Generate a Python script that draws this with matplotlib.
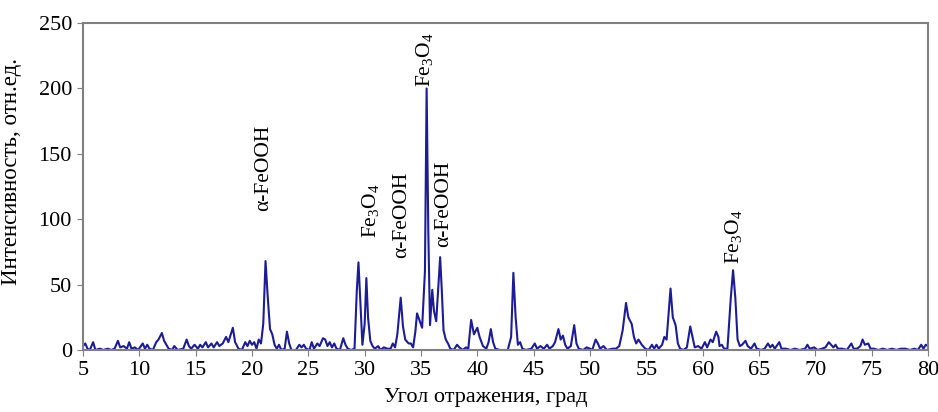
import matplotlib
matplotlib.use('Agg')
import matplotlib.pyplot as plt

# Дифрактограмма: угол 2θ и интенсивность
ugol = [5.0, 5.2, 5.4, 5.6, 5.9, 6.1, 6.5, 6.8, 7.2, 7.5, 7.8, 8.1, 8.3, 8.6, 8.9, 9.1, 9.3, 9.6, 9.9,
        10.3, 10.5, 10.7, 10.9, 11.2, 11.5, 11.7, 12.0, 12.2, 12.4, 12.6, 12.9, 13.1, 13.4, 13.9,
        14.2, 14.4, 14.6, 14.9, 15.2, 15.4, 15.6, 15.9, 16.1, 16.4, 16.6, 16.9, 17.1, 17.4, 17.7,
        17.9, 18.3, 18.5, 18.8, 19.1, 19.4, 19.6, 19.8, 20.0, 20.2, 20.4, 20.6, 20.8, 21.0, 21.2,
        21.4, 21.6, 21.8, 22.0, 22.2, 22.4, 22.6, 22.9, 23.1, 23.3, 23.5, 23.9, 24.2, 24.4, 24.6,
        24.8, 25.1, 25.3, 25.5, 25.8, 26.0, 26.3, 26.5, 26.7, 26.9, 27.1, 27.3, 27.5, 27.8, 28.1,
        28.3, 28.5, 28.8, 29.1, 29.3, 29.45, 29.6, 29.8, 30.0, 30.15, 30.3, 30.5, 30.7, 30.9, 31.2,
        31.4, 31.7, 32.0, 32.3, 32.5, 32.7, 32.9, 33.2, 33.4, 33.6, 33.9, 34.1, 34.3, 34.5, 34.65,
        34.9, 35.1, 35.35, 35.5, 35.65, 35.8, 36.0, 36.15, 36.35, 36.55, 36.7, 36.85, 37.0, 37.2,
        37.4, 37.6, 37.9, 38.2, 38.4, 38.7, 39.0, 39.2, 39.45, 39.7, 40.0, 40.2, 40.5, 40.8, 41.0,
        41.2, 41.4, 41.6, 42.0, 42.7, 43.0, 43.2, 43.4, 43.6, 43.8, 44.0, 44.3, 44.8, 45.1, 45.3,
        45.6, 45.9, 46.2, 46.4, 46.7, 46.9, 47.2, 47.4, 47.6, 47.8, 48.0, 48.3, 48.6, 48.8, 49.0,
        49.4, 49.7, 50.0, 50.2, 50.5, 50.7, 50.9, 51.2, 51.5, 52.0, 52.3, 52.6, 52.9, 53.2, 53.4,
        53.7, 53.9, 54.1, 54.3, 54.6, 54.9, 55.2, 55.5, 55.7, 55.9, 56.1, 56.4, 56.6, 56.8, 57.0,
        57.15, 57.35, 57.6, 57.8, 58.0, 58.3, 58.6, 58.9, 59.1, 59.3, 59.6, 59.9, 60.2, 60.4, 60.7,
        60.9, 61.2, 61.4, 61.5, 61.7, 61.9, 62.2, 62.5, 62.7, 62.9, 63.1, 63.3, 63.5, 63.8, 64.0,
        64.3, 64.6, 64.8, 65.2, 65.5, 65.8, 66.0, 66.2, 66.4, 66.8, 67.0, 67.4, 67.8, 68.2, 68.6,
        69.1, 69.3, 69.5, 69.9, 70.2, 70.6, 70.9, 71.2, 71.4, 71.6, 71.8, 72.0, 72.4, 72.8, 73.2,
        73.4, 73.7, 74.0, 74.2, 74.4, 74.7, 74.9, 75.2, 75.6, 76.0, 76.4, 76.8, 77.2, 77.6, 78.0,
        78.4, 78.8, 79.1, 79.4, 79.6, 79.8, 80.0]
intensivnost = [3, 5, 1, 0, 6, 0, 1, 0, 1, 0, 1, 7, 2, 3, 1, 6, 1, 2, 0,
                5, 1, 4, 1, 0, 6, 8, 13, 7, 4, 1, 0, 3, 0, 1,
                8, 3, 1, 4, 1, 4, 2, 6, 2, 5, 2, 6, 3, 5, 10,
                6, 17, 6, 1, 0, 6, 3, 7, 4, 6, 1, 8, 5, 20, 68,
                40, 16, 12, 4, 1, 4, 0, 1, 14, 5, 0, 0, 4, 2, 4,
                1, 0, 6, 1, 5, 3, 9, 8, 3, 6, 2, 5, 1, 0, 9,
                4, 1, 0, 1, 45, 67, 40, 4, 20, 55, 25, 7, 3, 1, 3,
                0, 2, 1, 1, 5, 2, 12, 40, 18, 8, 5, 5, 2, 14, 28,
                22, 17, 60, 200, 90, 19, 46, 30, 22, 50, 71, 45, 15, 8,
                5, 1, 0, 4, 2, 0, 2, 1, 23, 12, 17, 10, 3, 1, 6,
                16, 6, 1, 0, 0, 10, 59, 25, 4, 6, 1, 0, 1, 5, 1,
                3, 1, 4, 1, 3, 6, 16, 8, 11, 4, 1, 3, 19, 5, 1,
                0, 2, 1, 0, 8, 5, 1, 3, 0, 1, 1, 3, 15, 36, 25,
                20, 10, 5, 8, 4, 1, 0, 4, 1, 4, 1, 4, 10, 8, 30,
                47, 25, 19, 5, 1, 0, 2, 18, 10, 2, 3, 1, 6, 2, 8,
                6, 14, 10, 3, 4, 1, 1, 40, 61, 40, 8, 3, 4, 7, 3,
                1, 5, 1, 0, 1, 5, 2, 4, 1, 6, 1, 1, 0, 1, 0,
                1, 4, 1, 2, 0, 1, 2, 6, 4, 2, 4, 1, 1, 0, 5,
                1, 1, 3, 8, 4, 5, 1, 1, 0, 1, 0, 1, 0, 1, 1,
                0, 1, 0, 4, 1, 4, 3]

# Подписи фаз: текст, положение по x и нижний край по y
fazy = ['α-FeOOH', 'Fe$_3$O$_4$', 'α-FeOOH', 'Fe$_3$O$_4$', 'α-FeOOH', 'Fe$_3$O$_4$']
faza_x = [21.0, 30.5, 33.3, 35.35, 37.0, 62.7]
faza_y = [106, 86, 70, 201, 79, 66]

plt.rcParams['font.family'] = ['Liberation Serif', 'DejaVu Serif']
plt.rcParams['mathtext.fontset'] = 'custom'
plt.rcParams['mathtext.rm'] = 'Liberation Serif'
plt.rcParams['mathtext.it'] = 'Liberation Serif:italic'

fig = plt.figure(figsize=(9.38, 4.12), dpi=100)
ax = fig.add_axes([0.0885, 0.1505, 0.9008, 0.7935])

ax.plot(ugol, intensivnost, color='#1c1c96', linewidth=1.5)

for tekst, x, y in zip(fazy, faza_x, faza_y):
    ax.text(x, y, tekst, rotation=90, ha='center', va='bottom', fontsize=15.5)

ax.set_xlim(5, 80)
ax.set_ylim(0, 250)
ax.set_xticks(range(5, 81, 5))
ax.set_yticks(range(0, 251, 50))

for s in ax.spines.values():
    s.set_color('#808080')
    s.set_linewidth(1.5)

ax.tick_params(axis='both', direction='out', length=4, color='#808080', labelsize=16, pad=4)
ax.set_xlabel('Угол отражения, град', fontsize=16)
ax.set_ylabel('Интенсивность, отн.ед.', fontsize=16.5)
ax.xaxis.set_label_coords(0.477, -0.115)
ax.yaxis.set_label_coords(-0.072, 0.545)

fig.savefig('out.png', dpi=100)
